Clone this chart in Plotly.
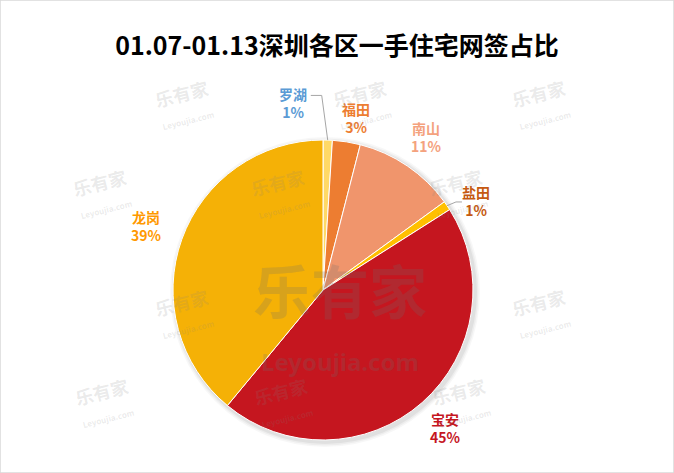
import math
import plotly.graph_objects as go

districts = ["罗湖", "福田", "南山", "盐田", "宝安", "龙岗"]
shares = [1, 3, 11, 1, 45, 39]
slice_colors = ["#FFD966", "#ED7D31", "#F0956C", "#FFC000", "#C5161F", "#F5B106"]
label_colors = ["#5B9BD5", "#ED7D31", "#F4A27E", "#C55A11", "#C5161F", "#FF9900"]
title_text = "01.07-01.13深圳各区一手住宅网签占比"

W, H = 674, 473
CX, CY, R = 323, 290, 150          # pie centre / radius in pixels
# label placement: radial factor and angular shift (deg) per slice
label_k = [1.26, 1.17, 1.23, 1.18, 1.23, 1.25]
label_shift = [-11, 2, 0, 4, 0, 0]
leader = [True, False, False, True, False, False]

def px(x):
    return x / W

def py(y):
    return 1 - y / H

fig = go.Figure()

# soft shadow behind the pie
shapes = []
for grow, alpha in [(5, 0.03), (3.5, 0.04), (2, 0.05)]:
    shapes.append(dict(type="circle", xref="paper", yref="paper", layer="below",
                       x0=px(CX - R - grow + 2), x1=px(CX + R + grow + 2),
                       y0=py(CY + R + grow + 2), y1=py(CY - R - grow + 2),
                       fillcolor=f"rgba(0,0,0,{alpha})", line=dict(width=0)))

fig.add_trace(go.Pie(
    labels=districts,
    values=shares,
    sort=False,
    direction="clockwise",
    rotation=0,
    marker=dict(colors=slice_colors, line=dict(color="white", width=1)),
    textinfo="none",
    hoverinfo="label+percent",
    showlegend=False,
    domain=dict(x=[px(CX - R), px(CX + R)], y=[py(CY + R), py(CY - R)]),
))

# labels computed from data (mid-angle of each slice)
total = sum(shares)
cum = 0
for name, v, col, k, sh, ld in zip(districts, shares, label_colors, label_k, label_shift, leader):
    mid = (cum + v / 2) / total * 2 * math.pi
    cum += v
    ang = mid + math.radians(sh)
    lx = CX + k * R * math.sin(ang)
    ly = CY - k * R * math.cos(ang)
    pct = round(v / total * 100)
    fig.add_annotation(text=f"<b>{name}<br>{pct}%</b>", x=px(lx), y=py(ly), xref="paper", yref="paper",
                       showarrow=False, xanchor="center", yanchor="middle",
                       font=dict(size=14, color=col, family="Noto Sans CJK SC"))
    if ld:
        ex = CX + R * math.sin(mid)
        ey = CY - R * math.cos(mid)
        if lx < ex:
            p = f"M{px(ex)},{py(ey)} L{px(ex - 6)},{py(ly - 8)} L{px(lx + 18)},{py(ly - 8)}"
        else:
            p = f"M{px(ex)},{py(ey)} L{px(lx - 20)},{py(ly + 1)} L{px(lx - 14)},{py(ly + 1)}"
        shapes.append(dict(type="path", xref="paper", yref="paper", path=p,
                           line=dict(color="#A6A6A6", width=1)))

# watermarks
fig.add_annotation(text="<span style='font-size:58px'><b>乐有家</b></span><br>"
                        "<span style='font-size:24px;font-family:Noto Sans'><b>Leyoujia.com</b></span>",
                   x=px(340), y=py(312), font=dict(size=44, family="Noto Sans CJK SC",
                   color="rgba(110,110,110,0.22)"), showarrow=False, xref="paper", yref="paper")
wm_pos = [(150, 72), (362, 72), (575, 72), (68, 192), (280, 192), (492, 192),
          (150, 312), (575, 312), (70, 432), (283, 432), (495, 432)]
for (wx, wy) in wm_pos:
    fig.add_annotation(text="<b>乐有家</b><br><span style='font-size:8px'><b>Leyoujia.com</b></span>",
                       x=px(wx), y=py(wy), textangle=-14,
                       font=dict(size=18, family="Noto Sans CJK SC", color="rgba(130,130,130,0.17)"),
                       showarrow=False, xref="paper", yref="paper")

shapes.append(dict(type="rect", xref="paper", yref="paper", x0=0, y0=0, x1=1, y1=1,
                   line=dict(color="#D9D9D9", width=1.5)))

fig.update_layout(
    width=W, height=H,
    margin=dict(l=0, r=0, t=0, b=0),
    paper_bgcolor="white",
    plot_bgcolor="white",
    title=dict(text="<b>" + title_text + "</b>", x=px(337), xanchor="center", y=py(46), yanchor="middle",
               font=dict(size=25, family="Noto Sans CJK SC", color="black")),
    shapes=shapes,
)

fig.write_html("out.html", config={"displayModeBar": False},
               post_script="document.body.style.margin='0';document.body.style.overflow='hidden';")
